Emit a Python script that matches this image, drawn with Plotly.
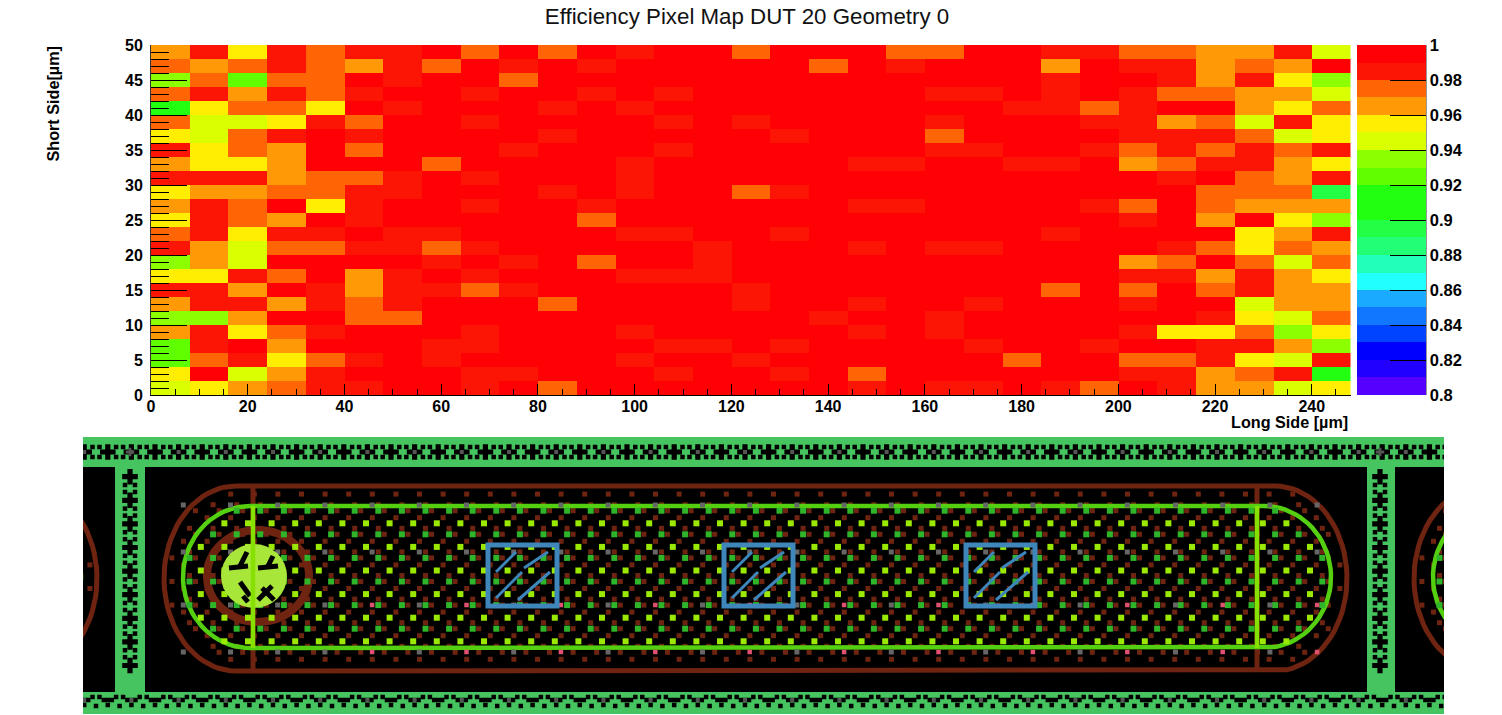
import numpy as np
import plotly.graph_objects as go

# efficiency per bin, rows listed from top (48-50 um) down to bottom (0-2 um)
row_48 = [.965,.985,.955,.985,.975,.985,.985,.995,.975,.995,.975,.995,.985,.995,.995,.975,.995,.995,.995,.975,.975,.995,.995,.985,.985,.975,.975,.965,.965,.985,.945]
row_46 = [.975,.965,.975,.985,.975,.965,.985,.975,.995,.985,.995,.985,.995,.995,.995,.995,.995,.975,.995,.985,.995,.995,.995,.965,.995,.985,.985,.965,.975,.965,.995]
row_44 = [.935,.975,.925,.975,.975,.995,.985,.995,.995,.975,.995,.995,.995,.995,.995,.995,.995,.995,.995,.995,.995,.995,.995,.985,.995,.995,.985,.965,.985,.955,.935]
row_42 = [.975,.985,.965,.985,.975,.985,.995,.995,.985,.995,.995,.985,.995,.985,.995,.995,.995,.995,.995,.995,.985,.985,.995,.985,.995,.985,.975,.975,.965,.965,.945]
row_40 = [.915,.955,.975,.975,.955,.995,.985,.995,.995,.995,.985,.995,.985,.995,.995,.995,.995,.995,.995,.995,.995,.995,.985,.985,.975,.985,.995,.995,.965,.955,.975]
row_38 = [.975,.945,.945,.955,.985,.975,.995,.995,.985,.995,.995,.995,.995,.985,.995,.985,.995,.995,.995,.995,.985,.995,.995,.995,.985,.985,.965,.975,.945,.985,.955]
row_36 = [.955,.945,.975,.985,.995,.985,.995,.995,.995,.995,.985,.995,.995,.995,.995,.995,.985,.995,.995,.995,.975,.995,.995,.995,.995,.985,.985,.985,.975,.945,.955]
row_34 = [.985,.955,.975,.965,.995,.975,.995,.995,.995,.985,.995,.995,.995,.985,.995,.995,.995,.995,.995,.995,.985,.985,.995,.995,.985,.975,.985,.975,.985,.975,.985]
row_32 = [.965,.955,.955,.965,.995,.995,.995,.975,.995,.995,.995,.995,.985,.995,.995,.995,.995,.995,.985,.985,.995,.995,.985,.985,.995,.965,.975,.985,.985,.965,.955]
row_30 = [.985,.985,.985,.965,.975,.975,.985,.995,.985,.995,.995,.995,.985,.995,.995,.995,.995,.995,.995,.995,.995,.995,.995,.995,.995,.995,.985,.995,.975,.965,.985]
row_28 = [.955,.965,.965,.975,.975,.985,.985,.995,.995,.995,.985,.995,.985,.995,.995,.975,.985,.995,.995,.995,.995,.995,.995,.995,.995,.995,.995,.975,.975,.975,.895]
row_26 = [.965,.985,.975,.995,.955,.985,.995,.995,.985,.995,.995,.985,.995,.995,.995,.995,.995,.995,.985,.985,.995,.995,.995,.995,.985,.975,.995,.975,.965,.965,.965]
row_24 = [.955,.985,.975,.965,.995,.985,.995,.995,.995,.995,.995,.975,.995,.995,.995,.995,.995,.995,.995,.995,.995,.995,.995,.995,.995,.985,.995,.965,.995,.955,.935]
row_22 = [.975,.985,.955,.985,.985,.995,.985,.985,.995,.995,.995,.995,.985,.985,.995,.995,.985,.995,.995,.995,.995,.995,.995,.985,.995,.995,.995,.995,.955,.965,.985]
row_20 = [.985,.965,.945,.975,.975,.985,.985,.975,.985,.995,.995,.995,.995,.995,.985,.995,.995,.995,.985,.995,.985,.985,.995,.995,.995,.995,.985,.975,.955,.975,.965]
row_18 = [.935,.965,.945,.995,.995,.995,.995,.985,.995,.985,.995,.975,.995,.995,.985,.995,.995,.995,.995,.995,.995,.995,.995,.995,.995,.965,.975,.995,.975,.945,.975]
row_16 = [.955,.955,.985,.975,.995,.965,.985,.995,.985,.995,.995,.995,.985,.985,.985,.995,.995,.995,.995,.995,.995,.995,.995,.995,.995,.985,.985,.965,.985,.965,.955]
row_14 = [.985,.985,.965,.995,.985,.965,.985,.985,.975,.985,.995,.995,.995,.995,.995,.985,.995,.995,.995,.995,.995,.995,.995,.975,.995,.975,.995,.975,.985,.965,.965]
row_12 = [.965,.985,.985,.965,.985,.975,.985,.995,.995,.995,.975,.995,.995,.995,.995,.985,.995,.995,.985,.995,.995,.985,.995,.995,.995,.985,.995,.995,.945,.965,.965]
row_10 = [.935,.935,.965,.995,.995,.975,.975,.995,.995,.995,.995,.995,.995,.995,.995,.995,.995,.985,.995,.995,.985,.995,.995,.995,.995,.995,.995,.985,.955,.945,.975]
row_8 = [.965,.985,.955,.975,.985,.995,.995,.995,.985,.995,.995,.995,.985,.995,.995,.995,.995,.995,.985,.995,.985,.995,.995,.995,.995,.985,.955,.955,.975,.935,.955]
row_6 = [.925,.985,.995,.965,.995,.995,.995,.985,.985,.995,.995,.995,.995,.985,.985,.995,.985,.995,.995,.995,.995,.985,.995,.995,.985,.995,.995,.985,.985,.965,.935]
row_4 = [.925,.975,.985,.955,.975,.985,.995,.985,.995,.995,.995,.995,.985,.995,.995,.985,.995,.995,.995,.995,.995,.995,.975,.995,.995,.975,.975,.985,.955,.945,.985]
row_2 = [.955,.995,.945,.965,.985,.995,.995,.995,.985,.985,.995,.995,.995,.985,.995,.995,.985,.995,.975,.995,.995,.995,.995,.995,.995,.985,.985,.965,.975,.985,.915]
row_0 = [.945,.955,.965,.975,.985,.985,.995,.995,.985,.995,.975,.995,.995,.995,.995,.995,.995,.995,.985,.995,.985,.985,.995,.985,.975,.995,.985,.965,.965,.945,.955]

rows = [row_0, row_2, row_4, row_6, row_8, row_10, row_12, row_14, row_16, row_18, row_20, row_22, row_24,
        row_26, row_28, row_30, row_32, row_34, row_36, row_38, row_40, row_42, row_44, row_46, row_48]

# ROOT palette, one colour per 0.01 from 0.80 to 1.00
palette = ["#5500ff", "#2200ff", "#0000ff", "#0044ff", "#1177ff", "#1aaaff", "#22ffff", "#22ffbb", "#22ff77", "#22ff44",
           "#22ff10", "#22ff10", "#5fff00", "#8cff00", "#d9ff00", "#ffee00", "#ff9905", "#ff6405", "#fc1405", "#ff0005"]
bar_ticks = [0.8, 0.82, 0.84, 0.86, 0.88, 0.9, 0.92, 0.94, 0.96, 0.98, 1]
bar_labels = ["0.8", "0.82", "0.84", "0.86", "0.88", "0.9", "0.92", "0.94", "0.96", "0.98", "1"]

W = 1502
H = 715
FONT = "Liberation Sans"
GREEN = "#45c45f"
RED = "#6e2410"
LIME = "#9be800"
LINE = "#55d010"
BLUE = "#3f86ba"
PITCH = 23.6
CELL = 1250

colorscale = []
for i, c in enumerate(palette):
    colorscale.append([i / len(palette), c])
    colorscale.append([(i + 1) / len(palette), c])

fig = go.Figure()
fig.add_trace(go.Heatmap(z=rows, x0=4, dx=8, y0=1, dy=2, zmin=0.8, zmax=1, colorscale=colorscale,
                         xgap=0, ygap=0, hoverinfo="skip",
                         colorbar=dict(thickness=69, thicknessmode="pixels", len=350, lenmode="pixels",
                                       x=1357 / W, xanchor="left", y=(H - 395) / H, yanchor="bottom",
                                       xpad=0, ypad=0, outlinewidth=0, ticks="inside", ticklen=36,
                                       tickcolor="black", tickwidth=1, tickvals=bar_ticks, ticktext=bar_labels,
                                       tickfont=dict(family=FONT, size=16.5, color="black", weight=700))))


def stadium(x0, x1, y0, y1, rx):
    # outline with elliptical caps
    ry = (y1 - y0) / 2
    yc = (y0 + y1) / 2
    t = np.linspace(np.pi / 2, 3 * np.pi / 2, 40)
    lx = x0 + rx + rx * np.cos(t)
    rx_ = x1 - rx - rx * np.cos(t[::-1])
    xs = np.concatenate([lx, rx_, lx[:1]])
    ys = np.concatenate([yc - ry * np.sin(t), yc - ry * np.sin(t[::-1]), [y0]])
    return xs, ys


def inside(x, y, x0, x1, y0, y1, rx):
    ry = (y1 - y0) / 2
    yc = (y0 + y1) / 2
    if y < y0 or y > y1 or x < x0 or x > x1:
        return False
    if x < x0 + rx:
        return ((x - x0 - rx) / rx) ** 2 + ((y - yc) / ry) ** 2 <= 1
    if x > x1 - rx:
        return ((x - x1 + rx) / rx) ** 2 + ((y - yc) / ry) ** 2 <= 1
    return True


def dots(xs, ys, color, size, symbol="square"):
    fig.add_trace(go.Scatter(x=xs, y=ys, mode="markers", xaxis="x2", yaxis="y2", hoverinfo="skip", showlegend=False,
                             marker=dict(color=color, size=size, symbol=symbol, line=dict(width=0))))


def outline(xs, ys, color, width):
    fig.add_trace(go.Scatter(x=xs, y=ys, mode="lines", xaxis="x2", yaxis="y2", hoverinfo="skip", showlegend=False,
                             line=dict(color=color, width=width)))


outer = (164, 1347, 486, 671, 72)
inner = (183, 1331, 506, 648, 67)

lime_x, lime_y, green_x, green_y, red_x, red_y = [], [], [], [], [], []
for shift in (-CELL, 0, CELL):
    for i in range(-14, 40):
        for j in range(-2, 8):
            lx = 484 + PITCH * i
            ly = 523.3 + PITCH * j
            if inside(lx, ly, 183, 1331, 504, 650, 67):
                lime_x.append(lx + shift)
                lime_y.append(ly)
            gx = 472.7 + PITCH * i
            gy = 534.3 + PITCH * j
            if inside(gx, gy, 183, 1331, 504, 650, 67):
                green_x.append(gx + shift)
                green_y.append(gy)
            for dx, dy in ((6, 0), (0, -6), (-6, 7)):
                if inside(gx + dx, gy + dy, 168, 1343, 490, 667, 70):
                    red_x.append(gx + dx + shift)
                    red_y.append(gy + dy)

for shift in (-CELL, 0, CELL):
    xs, ys = stadium(outer[0] + shift, outer[1] + shift, outer[2], outer[3], outer[4])
    outline(xs, ys, RED, 5)
dots(red_x, red_y, RED, 5)
for shift in (-CELL, 0, CELL):
    xs, ys = stadium(inner[0] + shift, inner[1] + shift, inner[2], inner[3], inner[4])
    outline(xs, ys, LINE, 4.5)
dots(green_x, green_y, "#2fb52a", 6)
dots(lime_x, lime_y, LIME, 6)

# grey and pink pads
grey_x, grey_y, pink_x, pink_y = [], [], [], []
for i in range(25):
    px = 183.3 + 47.2 * i + (1 if i > 20 else 0)
    for py in (505, 552, 605, 652):
        if py > 560 and 3 < i < 25 and i % 2 == 0:
            pink_x.append(px)
            pink_y.append(py)
        else:
            grey_x.append(px)
            grey_y.append(py)
dots(grey_x, grey_y, "#666666", 5)
dots(pink_x, pink_y, "#e05070", 4.5)

# frame bands: crosses with small squares between them, T shapes along the bottom
cross_x, cross_y, sq_x, sq_y, pad_x, pad_y = [], [], [], [], [], []
for i in range(-3, 56):
    cx = 155 + PITCH * i
    if cx < 83 or cx > 1444:
        continue
    cross_x.append(cx)
    cross_y.append(452)
    sq_x.extend([cx - 4, cx, cx + 4, cx])
    sq_y.extend([700, 700, 700, 705])
    mx = cx + PITCH / 2
    for dx, dy in ((-3.5, -5), (3.5, -5), (-3.5, 5), (3.5, 5)):
        sq_x.append(mx + dx)
        sq_y.append(452 + dy)
    sq_x.extend([mx - 3.5, mx + 3.5, mx])
    sq_y.extend([697, 697, 706])
    if i % 2 == 1:
        pad_x.extend([cx, cx])
        pad_y.extend([452, 700])
for band_x in (130, 1380):
    for j in range(9):
        by = 476.7 + PITCH * j
        cross_x.append(band_x)
        cross_y.append(by)
        if j < 8:
            for dx, dy in ((-5, -3.5), (5, -3.5), (-5, 3.5), (5, 3.5)):
                sq_x.append(band_x + dx)
                sq_y.append(by + PITCH / 2 + dy)
dots(cross_x, cross_y, "black", 13, "cross")
dots(sq_x, sq_y, "black", 4.5)
dots(pad_x, pad_y, "#555555", 4)
dots([130, 1380], [452, 452], "#555555", 7, "cross")


def area(x0, y0, x1, y1, color, layer="below"):
    return dict(type="rect", xref="x2", yref="y2", x0=x0, x1=x1, y0=y0, y1=y1, fillcolor=color,
                line=dict(width=0), layer=layer)


def seg(x0, y0, x1, y1, color, width, layer="above"):
    return dict(type="line", xref="x2", yref="y2", x0=x0, x1=x1, y0=y0, y1=y1,
                line=dict(color=color, width=width), layer=layer)


shapes = [
    area(83, 437, 1444, 714, "black"),
    area(83, 437, 1444, 467, GREEN),
    area(83, 692, 1444, 714, GREEN),
    area(115, 437, 145, 714, GREEN),
    area(1367, 437, 1395, 714, GREEN),
    dict(type="circle", xref="x2", yref="y2", x0=207, x1=309, y0=530, y1=622, layer="below",
         line=dict(color=RED, width=8)),
    seg(253, 486, 253, 672, RED, 5, "below"),
    seg(1257, 486, 1257, 672, RED, 5, "below"),
    dict(type="circle", xref="x2", yref="y2", x0=221, x1=287, y0=544, y1=608, fillcolor="#a8e63a",
         line=dict(width=0), layer="above"),
    seg(229, 568, 248, 566, "black", 5),
    seg(240, 566, 247, 552, "black", 5),
    seg(258, 568, 278, 566, "black", 5),
    seg(268, 566, 273, 556, "black", 5),
    seg(240, 582, 250, 596, "black", 5),
    seg(243, 596, 248, 602, "black", 5),
    seg(258, 600, 272, 586, "black", 5),
    seg(262, 588, 274, 600, "black", 5),
    seg(253, 506, 253, 648, "#86e000", 4.5),
    seg(1257, 506, 1257, 648, "#86e000", 4.5),
    # line marking the right edge of the colour bar
    dict(type="line", xref="paper", yref="paper", x0=1426 / W, x1=1426 / W, y0=(H - 395) / H, y1=(H - 45) / H,
         line=dict(color="#333333", width=1)),
]
for bx in (488, 724, 966):
    shapes.append(dict(type="rect", xref="x2", yref="y2", x0=bx, x1=bx + 69, y0=545, y1=606, fillcolor="rgba(0,0,0,0)",
                       line=dict(color=BLUE, width=5), layer="above"))
    shapes.append(seg(bx + 8, 598, bx + 34, 572, BLUE, 3))
    shapes.append(seg(bx + 36, 568, bx + 60, 552, BLUE, 3))
    shapes.append(seg(bx + 30, 600, bx + 62, 572, BLUE, 3))
    shapes.append(seg(bx + 8, 572, bx + 28, 552, BLUE, 3))

fig.update_layout(
    width=W, height=H, margin=dict(l=0, r=0, t=0, b=0, autoexpand=False), showlegend=False,
    paper_bgcolor="white", plot_bgcolor="white", shapes=shapes,
    font=dict(family=FONT, color="black"),
    title=dict(text="Efficiency Pixel Map DUT 20 Geometry 0", x=747 / W, xanchor="center", y=1 - 16 / H,
               yanchor="middle", font=dict(family=FONT, size=22.3, color="#111111")),
    xaxis=dict(domain=[151 / W, 1350.5 / W], range=[0, 248], anchor="y", dtick=20, tick0=0, ticks="inside", ticklen=11,
               tickcolor="black", showline=True, linecolor="black", showgrid=False, zeroline=False, automargin=False,
               tickfont=dict(family=FONT, size=16, color="black", weight=700), ticklabelstandoff=-3,
               minor=dict(dtick=5, ticks="inside", ticklen=6, tickcolor="black", showgrid=False)),
    yaxis=dict(domain=[(H - 395) / H, (H - 45) / H], range=[0, 50], anchor="x", dtick=5, tick0=0, ticks="inside",
               ticklen=36, tickcolor="black", showline=True, linecolor="#333333", showgrid=False, zeroline=False,
               automargin=False, tickfont=dict(family=FONT, size=16, color="black", weight=700), ticklabelstandoff=4,
               minor=dict(dtick=1, ticks="inside", ticklen=18, tickcolor="black", showgrid=False)),
    xaxis2=dict(domain=[83 / W, 1444 / W], range=[83, 1444], anchor="y2", visible=False, automargin=False),
    yaxis2=dict(domain=[1 / H, (H - 437) / H], range=[714, 437], anchor="x2", visible=False, automargin=False),
    annotations=[
        dict(text="Long Side [µm]", xref="paper", yref="paper", x=1350 / W, y=1 - 422 / H, xanchor="right",
             yanchor="middle", showarrow=False, font=dict(family=FONT, size=16.2, color="black", weight=700)),
        dict(text="Short Side[µm]", xref="paper", yref="paper", x=53 / W, y=1 - 45 / H, xanchor="center",
             yanchor="top", textangle=-90, showarrow=False, font=dict(family=FONT, size=16.2, color="black", weight=700)),
    ],
)

fig.write_html("out.html", post_script="document.body.style.margin='0';", config={"displayModeBar": False})
